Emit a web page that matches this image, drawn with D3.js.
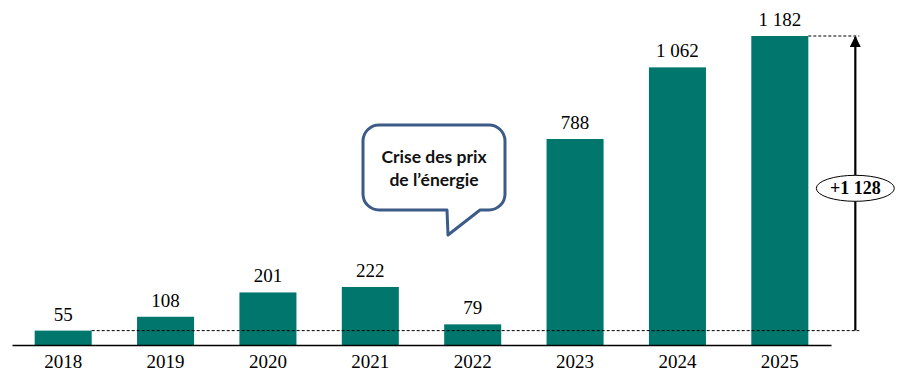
<!DOCTYPE html>
<html><head><meta charset="utf-8">
<script src="https://cdn.jsdelivr.net/npm/d3@7"></script>
<style>body{margin:0;background:#fff}svg{display:block}</style>
</head><body>
<svg id="c" width="914" height="383"></svg>
<script>
const years = ["2018","2019","2020","2021","2022","2023","2024","2025"];
const values = [55,108,201,222,79,788,1062,1182];
const valueLabels = ["55","108","201","222","79","788","1 062","1 182"];
const deltaLabel = "+1 128";
const calloutLines = ["Crise des prix","de l’énergie"];

const svg = d3.select("#c");
const x = d3.scaleBand().domain(years).range([12,831]).paddingInner(0.443).paddingOuter(0.2215);
const y = d3.scaleLinear().domain([0,1182]).range([345,36]);
const teal = "#00766D";
const serif = "'Liberation Serif','DejaVu Serif',serif";

const first = values[0], last = values[values.length-1];
const lastX = x(years[years.length-1]) + x.bandwidth();
const arrowX = lastX + 47;

// bars
svg.selectAll("rect.bar").data(values).join("rect").attr("class","bar")
  .attr("x",(d,i)=>x(years[i])).attr("width",x.bandwidth())
  .attr("y",d=>y(d)).attr("height",d=>y(0)-y(d)).attr("fill",teal);

// dashed reference lines (drawn over bars)
svg.append("line").attr("x1", x(years[0])+x.bandwidth()).attr("x2", arrowX+4)
  .attr("y1", y(first)).attr("y2", y(first))
  .attr("stroke","#000").attr("stroke-width",1).attr("stroke-dasharray","3,2");
svg.append("line").attr("x1", lastX).attr("x2", arrowX+4)
  .attr("y1", y(last)).attr("y2", y(last))
  .attr("stroke","#000").attr("stroke-width",1).attr("stroke-dasharray","3,2");

// value labels
svg.selectAll("text.val").data(values).join("text").attr("class","val")
  .attr("x",(d,i)=>x(years[i])+x.bandwidth()/2).attr("y",d=>y(d)-10)
  .attr("text-anchor","middle").attr("font-family",serif).attr("font-size",19)
  .text((d,i)=>valueLabels[i]);

// x axis
const ax = svg.append("g").attr("transform",`translate(0,${y(0)})`)
  .call(d3.axisBottom(x).tickSize(0).tickPadding(10));
ax.select(".domain").attr("stroke","#000").attr("stroke-width",1.3);
ax.selectAll("text").attr("font-family",serif).attr("font-size",19).attr("fill","#000");

// arrow
svg.append("defs").append("marker").attr("id","ah").attr("viewBox","0 0 10 10")
  .attr("refX",9).attr("refY",5).attr("markerWidth",5).attr("markerHeight",5)
  .attr("orient","auto").append("path").attr("d","M0,0L10,5L0,10z").attr("fill","#000");
svg.append("line").attr("x1",arrowX).attr("x2",arrowX).attr("y1",y(first)).attr("y2",y(last)+1)
  .attr("stroke","#000").attr("stroke-width",2.2).attr("marker-end","url(#ah)");
const ey = (y(first)+y(last))/2 + 5;
svg.append("ellipse").attr("cx",arrowX).attr("cy",ey).attr("rx",39).attr("ry",13)
  .attr("fill","#fff").attr("stroke","#000").attr("stroke-width",1);
svg.append("text").attr("x",arrowX).attr("y",ey+6).attr("text-anchor","middle")
  .attr("font-family",serif).attr("font-weight","bold").attr("font-size",18).text(deltaLabel);

// callout bubble
const bx0=363,bx1=505,by0=125,by1=210,r=16;
const tail = [[447,by1],[448,235],[480,by1]];
const p = d3.path();
p.moveTo(bx0+r,by0); p.lineTo(bx1-r,by0); p.arcTo(bx1,by0,bx1,by0+r,r);
p.lineTo(bx1,by1-r); p.arcTo(bx1,by1,bx1-r,by1,r);
p.lineTo(tail[2][0],tail[2][1]); p.lineTo(tail[1][0],tail[1][1]); p.lineTo(tail[0][0],tail[0][1]);
p.lineTo(bx0+r,by1); p.arcTo(bx0,by1,bx0,by1-r,r);
p.lineTo(bx0,by0+r); p.arcTo(bx0,by0,bx0+r,by0,r); p.closePath();
svg.append("path").attr("d",p.toString()).attr("fill","#fff").attr("stroke","#3D5B87")
  .attr("stroke-width",3).attr("stroke-linejoin","round");
svg.selectAll("text.cl").data(calloutLines).join("text").attr("class","cl")
  .attr("x",434).attr("y",(d,i)=>163+i*23).attr("text-anchor","middle")
  .attr("font-family","Lato,'Open Sans',sans-serif").attr("font-weight","bold")
  .attr("font-size",17.5).attr("fill","#111").text(d=>d);
</script>
</body></html>
